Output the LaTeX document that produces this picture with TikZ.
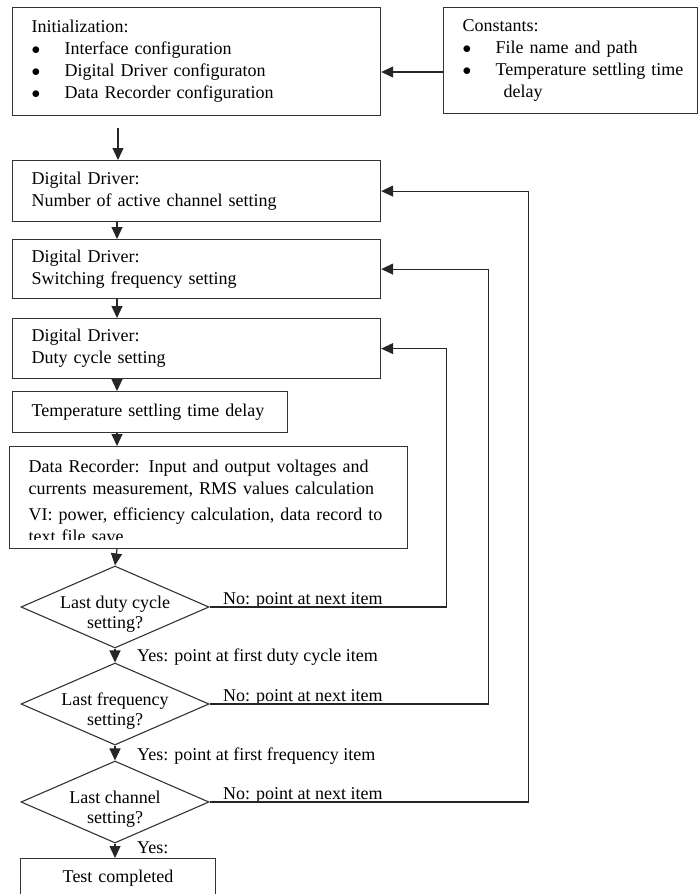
\documentclass[tikz,border=0pt]{standalone}
\usepackage{fontspec}
\setmainfont{Liberation Serif}
\usetikzlibrary{shapes.geometric,arrows.meta}

\newcommand{\bulitem}[1]{\mbox{\makebox[33pt][l]{$\bullet$}#1}}

\begin{document}
\begin{tikzpicture}[x=1pt,y=-1pt,
    boxnode/.style={draw=black!80, line width=1.2pt, anchor=north west, align=left, inner xsep=19pt, inner ysep=0pt, font=\fontsize{18}{22}\selectfont},
    decnode/.style={diamond, draw=black!80, line width=1.1pt, minimum width=188pt, minimum height=82pt, inner sep=0pt},
    dectext/.style={align=center, inner sep=0pt, yshift=-7pt, font=\fontsize{18}{20}\selectfont},
    lbl/.style={inner sep=0pt, font=\fontsize{18}{20}\selectfont},
    arr/.style={draw=black!85, line width=1.2pt, -{Triangle[length=12pt,width=11pt]}}
    ]
    \useasboundingbox (0,0) rectangle (698,894);

    \node [boxnode, text width=330pt, minimum height=108pt] (init) at (12,7)
        {Initialization:\\ \bulitem{Interface configuration}\\ \bulitem{Digital Driver configuraton}\\ \bulitem{Data Recorder configuration}};
    \node [boxnode, text width=216pt, minimum height=106pt] (const) at (443,7)
        {Constants:\\ \bulitem{File name and path}\\ \bulitem{Temperature settling time}\\ \hspace*{41pt}delay};

    \node [boxnode, text width=330pt, minimum height=61pt] (dd1) at (12,160) {Digital Driver:\\ \mbox{Number of active channel setting}};
    \node [boxnode, text width=330pt, minimum height=59pt] (dd2) at (12,239) {Digital Driver:\\ Switching frequency setting};
    \node [boxnode, text width=330pt, minimum height=60pt] (dd3) at (12,318) {Digital Driver:\\ Duty cycle setting};
    \node [boxnode, text width=237pt, minimum height=41pt] (temp) at (12,391) {\mbox{Temperature settling time delay}};

    % recorder box, last line is cut by the box
    \node [boxnode, inner sep=0pt, minimum width=398pt, minimum height=102pt] (rec) at (9,446) {};
    \begin{scope}
        \clip (9,446) rectangle (407,539);
        \node [boxnode, draw=none, inner sep=0pt, text width=380pt] (rectext) at (28,459)
            {Data Recorder: Input and output voltages and\\ currents measurement, RMS values calculation\\[4pt] VI: power, efficiency calculation, data record to\\ text file save};
    \end{scope}

    \node [decnode, label={[dectext]center:Last duty cycle\\setting?}] (dia1) at (115,607) {};
    \node [decnode, label={[dectext]center:Last frequency\\setting?}] (dia2) at (115,704) {};
    \node [decnode, label={[dectext]center:Last channel\\setting?}] (dia3) at (115,802) {};

    \node [boxnode, align=center, text width=155pt, inner xsep=20pt, minimum height=40pt] (done) at (20,858) {Test completed};

    \node [lbl, anchor=base west] (no1) at (223,604) {No: point at next item};
    \node [lbl, anchor=base west] (no2) at (223,701) {No: point at next item};
    \node [lbl, anchor=base west] (no3) at (223,799) {No: point at next item};
    \node [lbl, anchor=base west] (yes1) at (137,661) {Yes: point at first duty cycle item};
    \node [lbl, anchor=base west] (yes2) at (137,760) {Yes: point at first frequency item};
    \node [lbl, anchor=base west] (yes3) at (137,853) {Yes:};

    \coordinate (initout) at (118,128);
    \coordinate (spine) at (117,0);

    \draw [arr] (const.west |- 0,72) -- (init.east |- 0,72);
    \draw [arr] (initout) -- (initout |- dd1.north);
    \draw [arr] (dd1.south -| spine) -- (dd2.north -| spine);
    \draw [arr] (dd2.south -| spine) -- (dd3.north -| spine);
    \draw [arr] (dd3.south -| spine) -- (temp.north -| spine);
    \draw [arr] (temp.south -| spine) -- (rec.north -| spine);
    \draw [arr] (rec.south -| spine) -- (dia1.north);
    \draw [arr] (dia1.south) -- (dia2.north);
    \draw [arr] (dia2.south) -- (dia3.north);
    \draw [arr] (dia3.south) -- (done.north -| dia3.south);

    \draw [arr] (dia1.east) -- ++(237,0) |- (dd3.east);
    \draw [arr] (dia2.east) -- ++(279,0) |- (dd2.east);
    \draw [arr] (dia3.east) -- ++(319,0) |- (dd1.east);
\end{tikzpicture}
\end{document}
